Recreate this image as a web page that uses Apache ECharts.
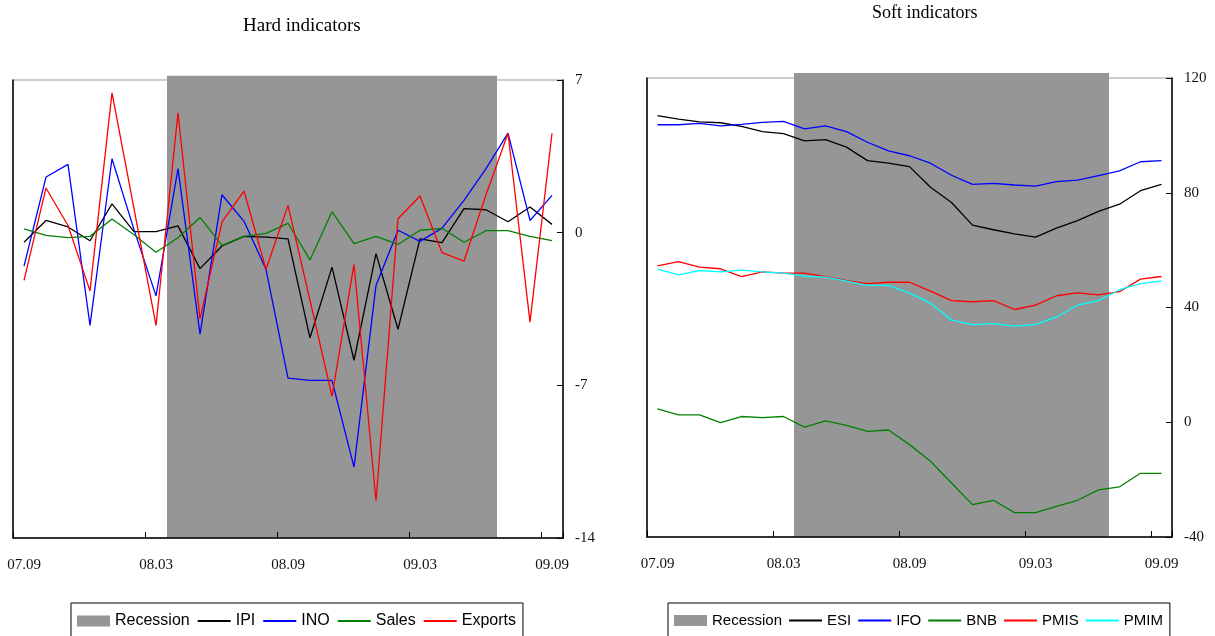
<!DOCTYPE html>
<html>
<head>
    <meta charset="utf-8">
    <style type="text/css">
        html,body { margin: 0px; padding: 0px; background: #fff; }
        #chart { width: 1215px; height: 636px; }
    </style>
    <script src="https://cdn.jsdelivr.net/npm/echarts@6/dist/echarts.min.js"></script>
</head>
<body>
    <div id="chart"></div>
    <script type="text/javascript">
        // months 07.09 .. 09.09
        var months = ['07.09','07.10','07.11','07.12','08.01','08.02','08.03','08.04','08.05','08.06','08.07','08.08',
                      '08.09','08.10','08.11','08.12','09.01','09.02','09.03','09.04','09.05','09.06','09.07','09.08','09.09'];
        var recession = [0,0,0,0,0,0,0,1,1,1,1,1,1,1,1,1,1,1,1,1,1,1,0,0,0];

        // hard indicators
        var ipi     = [-0.44, 0.56, 0.26, -0.37, 1.32, 0.05, 0.05, 0.31, -1.65, -0.61, -0.17, -0.2, -0.28, -4.82, -1.58, -5.85, -0.96, -4.43, -0.28, -0.46, 1.1, 1.05, 0.5, 1.18, 0.38];
        var ino     = [-1.53, 2.55, 3.13, -4.25, 3.39, 0.14, -2.9, 2.94, -4.65, 1.74, 0.52, -1.68, -6.67, -6.77, -6.77, -10.75, -2.42, 0.11, -0.4, 0.21, 1.48, 2.94, 4.56, 0.56, 1.71];
        var sales   = [0.17, -0.12, -0.23, -0.17, 0.63, -0.1, -0.9, -0.23, 0.7, -0.58, -0.17, -0.03, 0.43, -1.25, 0.96, -0.5, -0.17, -0.54, 0.11, 0.2, -0.44, 0.09, 0.09, -0.17, -0.37];
        var exports_ = [-2.19, 2.05, 0.33, -2.67, 6.41, 1.1, -4.25, 5.5, -3.95, 0.49, 1.91, -1.68, 1.25, -3.1, -7.5, -1.45, -12.3, 0.64, 1.68, -0.92, -1.3, 1.74, 4.56, -4.1, 4.56];

        // soft indicators
        var esi  = [106.9, 105.7, 104.7, 104.4, 103.1, 101.3, 100.6, 98.1, 98.5, 95.9, 91.2, 90.3, 89.1, 81.9, 76.6, 68.7, 67.1, 65.7, 64.5, 67.7, 70.3, 73.5, 76.0, 80.7, 82.9];
        var ifo  = [103.7, 103.7, 104.2, 103.3, 103.8, 104.5, 104.9, 102.3, 103.3, 101.3, 97.6, 94.6, 92.9, 90.3, 86.1, 82.9, 83.3, 82.7, 82.3, 83.9, 84.4, 86.0, 87.6, 90.8, 91.2];
        var bnb  = [4.7, 2.6, 2.6, -0.1, 2.0, 1.6, 2.0, -1.7, 0.5, -1.1, -3.2, -2.7, -7.8, -13.6, -21.2, -28.7, -27.2, -31.5, -31.5, -29.3, -27.2, -23.6, -22.5, -17.8, -17.8];
        var pmis = [54.5, 56.0, 54.1, 53.5, 50.8, 52.4, 52.0, 52.0, 50.8, 49.4, 48.3, 48.8, 48.8, 45.7, 42.4, 42.0, 42.4, 39.3, 40.8, 44.1, 45.1, 44.4, 45.5, 49.9, 50.8];
        var pmim = [53.4, 51.4, 52.9, 52.4, 53.0, 52.4, 52.0, 50.9, 50.6, 49.2, 47.7, 47.7, 45.0, 41.5, 35.6, 34.0, 34.4, 33.5, 34.0, 36.7, 40.8, 42.4, 46.2, 48.3, 49.3];

        var serif = 'Liberation Serif';
        var sans = 'Liberation Sans';
        var recData = recession.map(function(v){ return v ? 1 : '-'; });

        function xAxisOf(gi){
            return {
                type: 'category', gridIndex: gi, data: months, boundaryGap: true, z: 5,
                axisLine: { show: true, onZero: false, lineStyle: { color: '#000', width: 1.5 } },
                axisTick: { show: true, inside: true, length: 6, interval: 5, alignWithLabel: false, lineStyle: { color: '#000' } },
                axisLabel: { interval: 5, margin: 20, fontFamily: serif, fontSize: 15, color: '#111' },
                splitLine: { show: false }
            };
        }
        function valAxis(gi, min, max, step){
            return {
                type: 'value', gridIndex: gi, position: 'right', min: min, max: max, interval: step, z: 5,
                axisLine: { show: true, lineStyle: { color: '#000', width: 1.5 } },
                axisTick: { show: true, inside: true, length: 6, lineStyle: { color: '#000' } },
                axisLabel: { margin: 12, fontFamily: serif, fontSize: 15, color: '#111' },
                splitLine: { show: false }
            };
        }
        function recAxis(gi, max){
            return {
                type: 'value', gridIndex: gi, position: 'left', min: 0, max: max, z: 5,
                axisLine: { show: true, onZero: false, lineStyle: { color: '#000', width: 1.5 } },
                axisTick: { show: false }, axisLabel: { show: false }, splitLine: { show: false }
            };
        }
        function line(name, data, color, xi, yi){
            return {
                name: name, type: 'line', xAxisIndex: xi, yAxisIndex: yi, data: data,
                symbol: 'none', lineStyle: { color: color, width: 1.3 }, itemStyle: { color: color }, z: 3
            };
        }
        function recBar(xi, yi){
            return {
                name: 'Recession', type: 'bar', xAxisIndex: xi, yAxisIndex: yi, data: recData,
                barWidth: '100%', barGap: '0%', clip: false, itemStyle: { color: '#969696' }, z: 1
            };
        }
        function legendOf(left, names, fontSize, gap){
            var items = names.map(function(n){
                if (n === 'Recession') return { name: n, icon: 'rect' };
                return { name: n, itemStyle: { opacity: 0 } };
            });
            return {
                left: left, top: 603, orient: 'horizontal', data: items,
                borderColor: '#000', borderWidth: 1, padding: [10, 7, 10, 6],
                itemWidth: 33, itemHeight: 11, itemGap: gap,
                textStyle: { fontFamily: sans, fontSize: fontSize, color: '#000' },
                selectedMode: false
            };
        }

        var chart = echarts.init(document.getElementById('chart'));
        var option = {
            animation: false,
            backgroundColor: '#fff',
            title: [
                { text: 'Hard indicators', left: 243, top: 17, padding: 0,
                  textStyle: { fontFamily: serif, fontSize: 19, fontWeight: 'normal', color: '#000' } },
                { text: 'Soft indicators', left: 872, top: 4, padding: 0,
                  textStyle: { fontFamily: serif, fontSize: 18, fontWeight: 'normal', color: '#000' } }
            ],
            grid: [
                { left: 13, right: 652, top: 80, bottom: 98, show: true, borderColor: '#999', borderWidth: 1, backgroundColor: 'transparent' },
                { left: 647, right: 43, top: 78, bottom: 99, show: true, borderColor: '#999', borderWidth: 1, backgroundColor: 'transparent' }
            ],
            legend: [
                legendOf(71, ['Recession', 'IPI', 'INO', 'Sales', 'Exports'], 16, 7),
                legendOf(668, ['Recession', 'ESI', 'IFO', 'BNB', 'PMIS', 'PMIM'], 15, 6)
            ],
            xAxis: [xAxisOf(0), xAxisOf(1)],
            yAxis: [
                valAxis(0, -14, 7, 7), recAxis(0, 0.991),
                valAxis(1, -40, 120, 40), recAxis(1, 0.989)
            ],
            series: [
                recBar(0, 1),
                line('IPI', ipi, '#000000', 0, 0),
                line('INO', ino, '#0000ff', 0, 0),
                line('Sales', sales, '#008000', 0, 0),
                line('Exports', exports_, '#ff0000', 0, 0),
                recBar(1, 3),
                line('ESI', esi, '#000000', 1, 2),
                line('IFO', ifo, '#0000ff', 1, 2),
                line('BNB', bnb, '#008000', 1, 2),
                line('PMIS', pmis, '#ff0000', 1, 2),
                line('PMIM', pmim, '#00ffff', 1, 2)
            ]
        };
        chart.setOption(option);
    </script>
</body>
</html>
